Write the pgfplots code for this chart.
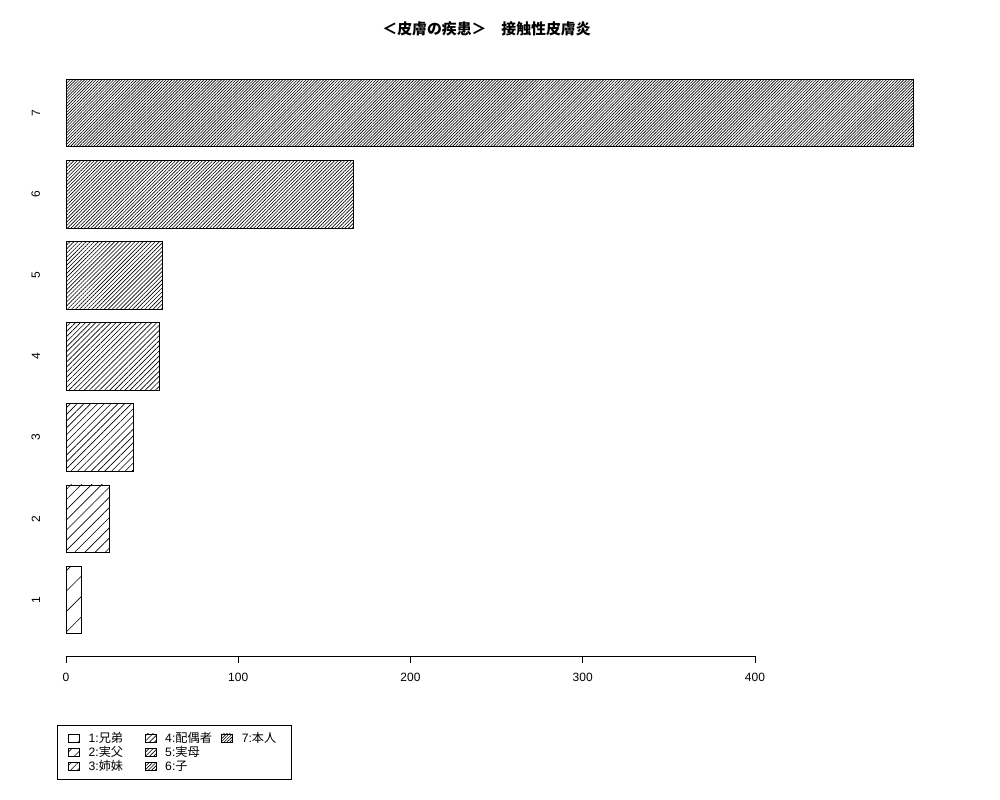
\documentclass[border=0pt]{standalone}
\usepackage{fontspec}
\setmainfont{Liberation Sans}
\newfontfamily\cjk{Noto Sans CJK JP}
\usepackage{pgfplots}
\pgfplotsset{compat=1.18}
\usetikzlibrary{patterns.meta}
\pgfplotsset{
  mybar/.style={xbar, bar shift=0pt, bar width=0.8333, draw=black, line width=0.5pt,
    pattern={Lines[angle=45,distance=#1,line width=0.45pt]},
    legend image code/.code={\draw[##1] (0pt,-3pt) rectangle (8pt,3pt);}},
}
\begin{document}
\begin{tikzpicture}
\useasboundingbox (0,0) rectangle (722.7pt,578.16pt);
\node[font=\cjk\bfseries\fontsize{10.75}{12}\selectfont] at (351.6pt,557.2pt) {＜皮膚の疾患＞　接触性皮膚炎};
\begin{axis}[
  at={(47.70pt,104.07pt)}, anchor=south west,
  scale only axis, width=497.94pt, height=439.40pt,
  xmin=0, xmax=400, ymin=0.31, ymax=7.8,
  clip=false,
  axis x line*=bottom, axis y line*=left,
  y axis line style={draw=none},
  x axis line style={line width=0.5pt, -},
  xtick={0,100,200,300,400},
  ytick={1,2,3,4,5,6,7},
  ytick style={draw=none},
  xtick style={black, line width=0.5pt},
  tick align=outside,
  major tick length=5pt,
  yticklabel style={rotate=90, anchor=south},
  yticklabel shift=10.2pt,
  xticklabel shift=4pt,
  tick label style={font=\fontsize{8.67}{10}\selectfont},
  /pgf/number format/assume math mode=true,
  legend columns=3,
  legend cell align=left,
  legend style={at={(-0.0131,-0.1135)}, anchor=north west, draw=black, line width=0.5pt,
    font=\fontsize{8.8}{9.5}\selectfont, row sep=-2.6pt, inner xsep=7.8pt, inner ysep=2.8pt,
    /tikz/every odd column/.append style={column sep=4.35pt},
    /tikz/every even column/.append style={column sep=4pt}},
]
\addplot[mybar=10.4pt, forget plot] coordinates {(9,1)};
\addplot[mybar=5.2pt, forget plot] coordinates {(25,2)};
\addplot[mybar=3.47pt, forget plot] coordinates {(39,3)};
\addplot[mybar=2.6pt, forget plot] coordinates {(54,4)};
\addplot[mybar=2.08pt, forget plot] coordinates {(56,5)};
\addplot[mybar=1.73pt, forget plot] coordinates {(167,6)};
\addplot[mybar=1.49pt, forget plot] coordinates {(492,7)};
\addlegendimage{mybar=10.4pt}
\addlegendentry{\makebox[34.5pt][l]{1:{\cjk 兄弟}}}
\addlegendimage{mybar=2.6pt}
\addlegendentry{\makebox[34.5pt][l]{4:{\cjk 配偶者}}}
\addlegendimage{mybar=1.49pt}
\addlegendentry{\makebox[26pt][l]{7:{\cjk 本人}}}
\addlegendimage{mybar=5.2pt}
\addlegendentry{\makebox[34.5pt][l]{2:{\cjk 実父}}}
\addlegendimage{mybar=2.08pt}
\addlegendentry{\makebox[34.5pt][l]{5:{\cjk 実母}}}
\addlegendimage{empty legend}
\addlegendentry{}
\addlegendimage{mybar=3.47pt}
\addlegendentry{\makebox[34.5pt][l]{3:{\cjk 姉妹}}}
\addlegendimage{mybar=1.73pt}
\addlegendentry{\makebox[34.5pt][l]{6:{\cjk 子}}}
\end{axis}
\end{tikzpicture}
\end{document}
